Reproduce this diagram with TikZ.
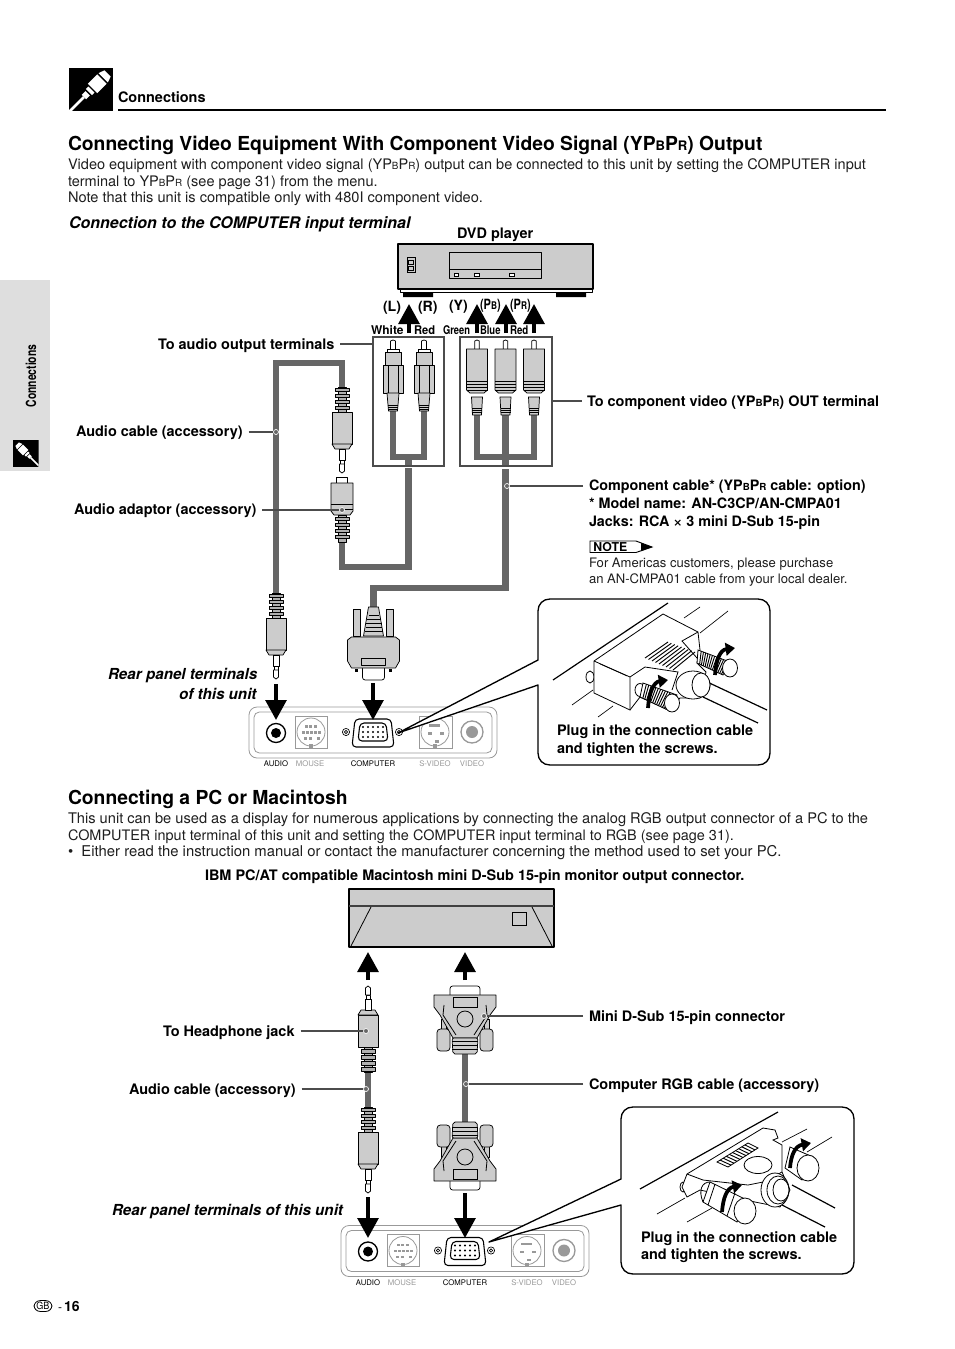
\documentclass[tikz,border=0pt]{standalone}
\usepackage{fontspec}
\setmainfont{TeX Gyre Heros}
\usetikzlibrary{arrows.meta,calc}
\definecolor{cablec}{HTML}{666666}
\definecolor{partc}{HTML}{CCCCCC}
\definecolor{gripc}{HTML}{B0B0B0}
\definecolor{panelc}{HTML}{999999}
\definecolor{tabc}{HTML}{DEDEDE}
\definecolor{bodyc}{HTML}{1E1E1E}
\newcommand{\fs}[1]{\fontsize{#1}{#1}\selectfont}
\newcommand{\ypb}{YP\scalebox{.68}{B}P\scalebox{.68}{R}}
\newcommand{\lab}[4]{\node[txt,#3] (#1) at (#2) {#4};}
\tikzset{
  txt/.style={anchor=base west,inner sep=0pt,outer sep=0pt,text=black},
  body/.style={font=\fs{10.9pt},text=bodyc},
  boldl/.style={font=\fs{10.85pt}\bfseries},
  head/.style={font=\fs{14.47pt}\bfseries},
  ital/.style={font=\fs{11.4pt}\bfseries\itshape},
  small/.style={font=\fs{9.8pt},text=bodyc},
  narrow/.style={font=\fs{9pt}\bfseries},
  paren/.style={font=\fs{10.6pt}\bfseries},
  tiny/.style={anchor=base,inner sep=0pt,font=\fs{5.8pt}},
  tinyg/.style={tiny,text=panelc},
  part/.style={draw=black,line width=0.55pt,fill=partc,line join=round},
  white part/.style={part,fill=white},
  grip/.style={part,line width=0.4pt,fill=gripc},
  cable/.style={draw=cablec,line width=4.9pt,line cap=butt,line join=miter},
  leader/.style={draw=black!70,line width=0.8pt},
  dot/.style={fill=cablec,draw=white,line width=0.5pt},
  pan/.style={draw=panelc,line width=0.6pt},
  bigarrow/.style={line width=3pt,-{Triangle[width=15.5pt,length=15pt]},draw=black},
  curvearrow/.style={line width=2.8pt,-{Triangle[width=9.5pt,length=7pt]},draw=black},
  callout/.style={draw=black,line width=1pt,fill=white,line join=round},
  ink/.style={draw=black,line width=0.6pt},
  inkfill/.style={ink,fill=white},
  frame/.style={draw=black!70,line width=1.1pt},
  pics/jack/.style={code={
    \draw[grip] (-4,0) rectangle (4,25);
    \foreach \r in {1,7,13,19}{\draw[grip] (-7,\r) rectangle (7,\r+3.5);}
    \draw[part] (-10,25) rectangle (10,57);
    \draw[part] (-10,57)--(-7,62)--(7,62)--(10,57)--cycle;
    \draw[white part] (-3,62) rectangle (3,73);
    \draw[white part] (-2,73) rectangle (2,77);
    \draw[white part] (-2.6,77) -- (-2.6,84) -- (0,86) -- (2.6,84) -- (2.6,77) -- cycle;
  }},
  pics/adaptor/.style={code={
    \draw[white part] (-5.5,0) rectangle (5.5,6);
    \draw[part] (-11,6)--(11,6)--(11,34)--(8,38)--(-8,38)--(-11,34)--cycle;
    \draw[ink] (-11,27)--(11,27) (-11,32)--(11,32);
    \draw[grip] (-4,38) rectangle (4,65);
    \foreach \r in {40,46,52,58}{\draw[grip] (-7,\r) rectangle (7,\r+3.5);}
  }},
  pics/rcaa/.style={code={
    \draw[white part] (-2.5,1) -- (-2.5,10) -- (2.5,10) -- (2.5,1) -- (0,0) -- cycle;
    \draw[white part] (-6,9) rectangle (6,12);
    \draw[part] (-8,12) rectangle (8,25);
    \draw[part] (-10,25) rectangle (10,53);
    \draw[ink] (-5,25)--(-5,53) (5,25)--(5,53);
    \draw[part] (-6,53)--(6,53)--(4.5,71)--(-4.5,71)--cycle;
    \foreach \r in {65,67,69}{\draw[ink] (-5,\r)--(5,\r);}
  }},
  pics/rcab/.style={code={
    \draw[white part] (-2.3,1) -- (-2.3,10) -- (2.3,10) -- (2.3,1) -- (0,0) -- cycle;
    \draw[part] (-10.5,9)--(10.5,9)--(10.5,50)--(7,53)--(-7,53)--(-10.5,50)--cycle;
    \foreach \r in {41,44,47,50}{\draw[ink] (-10.5,\r)--(10.5,\r);}
    \draw[part] (-5.5,57)--(5.5,57)--(4.5,75)--(-4.5,75)--cycle;
    \foreach \r in {68,70,72}{\draw[ink] (-5,\r)--(5,\r);}
  }},
  pics/vgaplug/.style={code={
    \draw[part] (-20,2) rectangle (-13,29);
    \draw[part] (13,2) rectangle (20,29);
    \draw[part] (-5,0)--(5,0)--(10,29)--(-10,29)--cycle;
    \foreach \r/\w in {8/5,12/7,16/8,20/8,24/9}{\draw[ink] (-\w,\r)--(\w,\r);}
    \draw[white part,rounded corners=2pt] (-11,58) rectangle (11,73);
    \draw[part] (-22,30)--(22,30)--(26,33)--(26,54)--(22,61)--(-22,61)--(-26,54)--(-26,33)--cycle;
    \draw[part,fill=partc] (-12,51) rectangle (12,58);
    \fill (-18.5,62) rectangle (-15.5,65);
    \fill (15.5,62) rectangle (18.5,65);
  }},
  pics/dsub/.style={code={
    \draw[part] (-24,20) rectangle (-19,34);
    \draw[part] (19,20) rectangle (24,34);
    \draw[part,rounded corners=2.5pt] (-28,2) rectangle (-15,24);
    \draw[part,rounded corners=2.5pt] (15,2) rectangle (28,24);
    \draw[white part,rounded corners=2pt] (-15,54) rectangle (15,67);
    \draw[part] (-12,15)--(12,15)--(25,38)--(31,46)--(31,58)--(-31,58)--(-31,46)--(-25,38)--cycle;
    \draw[ink] (-9,18)--(-22,38)--(-21,48) (9,18)--(22,38)--(21,48);
    \draw[part,rounded corners=1.5pt] (-12,-1)--(12,-1)--(13,15)--(-13,15)--cycle;
    \foreach \r in {4,8,12}{\draw[ink] (-13,\r)--(13,\r);}
    \draw[ink] (0,34) circle (8);
    \draw[ink] (-12,46) rectangle (12,56);
  }},
  pics/rearpanel/.style={code={
    \draw[pan,fill=white,rounded corners=6pt] (-124,-26) rectangle (124,25);
    \draw[pan,rounded corners=4pt] (-119,-21) rectangle (119,20);
    \draw[draw=black,line width=1pt,fill=white] (-97,0) circle (9.5);
    \fill[black] (-97,0) circle (5);
    \draw[pan] (-78,-17) rectangle (-46,15);
    \draw[pan] (-62,-1) circle (14);
    \foreach \a/\b in {-68/-8,-64/-8,-59/-8,-71/-2,-67/-2,-63/-2,-59/-2,-55/-2,-69/4,-64/4,-56/4}{\fill[panelc] (\a,\b) rectangle +(2.6,2.6);}
    \fill[panelc] (-64,11) rectangle (-60,15);
    \draw[black,line width=0.5pt] (-27,-1) circle (3.6) (-27,-1) circle (1.7);
    \draw[black,line width=0.5pt] (26,-1) circle (3.6) (26,-1) circle (1.7);
    \draw[draw=black,line width=0.8pt,fill=white,rounded corners=3pt] (-18,-14)--(18,-14)--(21,14)--(-21,14)--cycle;
    \draw[draw=black,line width=0.8pt,rounded corners=3pt] (-13,-10)--(13,-10)--(15,8)--(-15,8)--cycle;
    \foreach \b in {-6,-1,4}{\foreach \a in {-10,-5,0,5,10}{\fill (\a,\b) circle (1.1);}}
    \draw[pan] (46,-17) rectangle (79,15);
    \draw[pan] (62,-1) circle (14);
    \foreach \a/\b in {60/-9,56/-9,55/-1,67/-1,62/7,63/-9}{\fill[panelc] (\a,\b) rectangle +(4,2.6);}
    \fill[panelc] (60,11) rectangle (64,15);
    \draw[panelc,line width=1pt] (99,-1) circle (11);
    \fill[panelc] (99,-1) circle (6);
    \node[tiny] (-a) at (-97,33.5) {AUDIO};
    \node[tinyg] (-m) at (-63,33.5) {MOUSE};
    \node[tiny] (-c) at (0,33.5) {COMPUTER};
    \node[tinyg] (-s) at (62,33.5) {S-VIDEO};
    \node[tinyg] (-v) at (99,33.5) {VIDEO};
  }},
  pics/plugicon/.style={code={
    \fill[white] (-38,-1.6) rectangle (-13,1.6);
    \fill[white] (-13,-3.5) rectangle (-7,3.5);
    \fill[white] (-5,-5) rectangle (-1,5);
    \fill[white] (1,-7.5) rectangle (16,7.5);
    \fill[white] (18,-7.5) -- (25,-5) -- (25,5) -- (18,7.5) -- cycle;
  }},
}
\begin{document}
\begin{tikzpicture}[x=0.75pt,y=-0.75pt]
\useasboundingbox (0,0) rectangle (954,1349);
% ---------- margin tab and header
\fill[tabc] (0,280) rectangle (50,471);
\node[inner sep=0pt,rotate=90,font=\fs{10.5pt}\bfseries] (tabtext) at (31,376) {\scalebox{.74}[1]{Connections}};
\begin{scope}
  \clip (13,440) rectangle (38.5,467);
  \fill (13,440) rectangle (38.5,467);
  \pic[rotate=135,scale=.5] at (26,453) {plugicon};
\end{scope}
\begin{scope}
  \clip (69,68) rectangle (113,111);
  \fill (69,68) rectangle (113,111);
  \pic[rotate=45,scale=.88] at (92,89) {plugicon};
\end{scope}
\lab{hconn}{118,102}{boldl}{Connections}
\fill (118,108.7) rectangle (886,111.3);
% ---------- section 1 text
\lab{t1}{68,150}{head}{Connecting Video Equipment With Component Video Signal (\ypb) Output}
\lab{b1}{68,169}{body}{Video equipment with component video signal (\ypb) output can be connected to this unit by setting the COMPUTER input}
\lab{b2}{68,186}{body}{terminal to \ypb\ (see page 31) from the menu.}
\lab{b3}{68,202}{body,font=\fs{10.95pt}}{Note that this unit is compatible only with 480I component video.}
\lab{c1}{69,228}{ital,font=\fs{12pt}\bfseries\itshape}{Connection to the COMPUTER input terminal}
\lab{dvd}{457,238}{boldl}{DVD player}
% ---------- DVD player
\draw[part,line width=1pt] (398,244) rectangle (593,289);
\draw[part,fill=white] (400,289) rectangle (592,292);
\fill (403,292) rectangle (433,297) (556,292) rectangle (586,297);
\draw[part] (449,252) rectangle (541,278);
\draw[ink] (449,269) -- (541,269);
\draw[ink,fill=white] (454,273) rectangle (458,276) (474,273) rectangle (479,276) (509,273) rectangle (514,276);
\draw[ink] (407,257) rectangle (415,272);
\draw[ink] (408.5,260) rectangle (413.5,264) (408.5,266) rectangle (413.5,270);
% ---------- top arrows
\foreach \n/\x in {al/409,ay/477,ab/506,ar/534}{
  \coordinate (\n s) at (\x,333); \coordinate (\n e) at (\x,304);
  \draw[bigarrow] (\n s) -- (\n e);
}
\lab{lL}{383,311.5}{paren}{(L)}
\lab{lR}{418,311.5}{paren}{(R)}
\lab{lY}{449,310}{paren}{(Y)}
\lab{lPB}{480,309.5}{paren}{\scalebox{.78}[1]{(P\scalebox{.75}{B})}}
\lab{lPR}{510,309.5}{paren}{\scalebox{.78}[1]{(P\scalebox{.75}{R})}}
\lab{lw}{371,334}{narrow}{\scalebox{1}[1]{White}}
\lab{lr1}{414,334}{narrow}{\scalebox{.93}[1]{Red}}
\lab{lg}{443,334}{narrow}{\scalebox{.78}[1]{Green}}
\lab{lb}{480,334}{narrow}{\scalebox{.79}[1]{Blue}}
\lab{lr2}{510,334}{narrow}{\scalebox{.81}[1]{Red}}
% ---------- connector coordinates
\coordinate (audL) at (393,411);
\coordinate (audR) at (424,411);
\coordinate (audJ) at (408.5,457);
\coordinate (audO) at (408.5,468);
\coordinate (adapB) at (342,542);
\coordinate (jackA) at (342,387);
\coordinate (jackB) at (276,593);
\coordinate (vidY) at (477,415);
\coordinate (vidB) at (505.5,415);
\coordinate (vidR) at (534,415);
\coordinate (vidJ) at (505.5,457);
\coordinate (vidO) at (505.5,469);
\coordinate (vgaT) at (373.5,607);
% ---------- cables
\draw[cable] (audL) -- (audL |- audJ) -- (audR |- audJ) -- (audR);
\draw[cable] (audJ) -- (408.5,466);
\draw[cable] (audO) -- (408.5,567) -- (342,567) -- (adapB);
\draw[cable] (vidY) -- (vidY |- vidJ) -- (vidR |- vidJ) -- (vidR);
\draw[cable] (vidB) -- (505.5,466);
\draw[cable] (vidO) -- (505.5,588) -- (373.5,588) -- (vgaT);
\draw[cable] (jackA) -- (342,363) -- (276,363) -- (jackB);
% ---------- boxes and plugs
\draw[frame] (373,337) rectangle (444,466);
\draw[frame] (460,337) rectangle (552,466);
\pic at (393,340) {rcaa};
\pic at (424,340) {rcaa};
\pic at (477,340) {rcab};
\pic at (505.5,340) {rcab};
\pic at (534,340) {rcab};
\pic at (342,387) {jack};
\pic at (342,477) {adaptor};
\pic at (276,593) {jack};
\pic at (373.5,607) {vgaplug};
% ---------- rear panel 1
\pic (pa) at (373,733) {rearpanel};
\coordinate (arrJ1s) at (276,684); \coordinate (arrJ1e) at (276,720);
\coordinate (arrV1s) at (373,683); \coordinate (arrV1e) at (373,720);
\draw[bigarrow] (arrJ1s) -- (arrJ1e);
\draw[bigarrow] (arrV1s) -- (arrV1e);
% ---------- callout 1
\coordinate (tipA) at (398,733);
\draw[callout] (tipA) -- (538,660) -- (538,611) .. controls (538,604) and (543,599) .. (550,599) -- (758,599) .. controls (765,599) and (770,604) .. (770,611) -- (770,753) .. controls (770,760) and (765,765) .. (758,765) -- (550,765) .. controls (543,765) and (538,760) .. (538,753) -- (538,685) -- cycle;
\draw[ink,line width=.9pt] (553,680)--(668,603);
\draw[ink,line width=.5pt] (572,705)--(593,690) (598,717)--(613,706) (684,618)--(700,607) (700,633)--(728,611);
\draw[inkfill] (590,677) ellipse (4 and 6);
\draw[ink,line width=.9pt] (703,680)--(767,710) (703,697)--(758,723);
% connector shell
\draw[inkfill] (594,661)--(663,614)--(698,632)--(700,650)--(697,663)--(706,672)--(700,698)--(680,698)--(668,710)--(640,697)--(630,710)--(594,693)--cycle;
\draw[ink] (594,661)--(630,677)--(630,710) (630,677)--(645,667)--(678,672)--(672,690) (698,632)--(682,641)--(697,658);
\draw[ink,line width=.4pt] (600,664)--(627,676);
\foreach \t in {0,.125,...,1.01}{
  \draw[ink,line width=.7pt] ($(645,658)!\t!(673,670)$) -- ($(668,642)!\t!(695,652)$);
}
\draw[inkfill] (693,685) ellipse (17 and 14);
\draw[inkfill] (701,685) ellipse (9 and 12);
% screws
\draw[inkfill] (640,690) ellipse (5 and 6.5);
\draw[inkfill] (643,683)--(677,695)--(668,710)--(640,697)--cycle;
\foreach \t in {.1,.17,...,.95}{
  \draw[ink,line width=.7pt] ($(643,683)!\t!(677,695)$) -- ($(640,697)!\t!(668,710)$);
}
\draw[inkfill] (672,703) ellipse (7.5 and 9);
\draw[inkfill] (698,650)--(730,662)--(723,675)--(697,663)--cycle;
\foreach \t in {.1,.17,...,.95}{
  \draw[ink,line width=.7pt] ($(698,650)!\t!(730,662)$) -- ($(697,663)!\t!(723,675)$);
}
\draw[inkfill] (730,668) ellipse (7.5 and 9);
\coordinate (ca1) at (648,708); \coordinate (cb1) at (668,680);
\coordinate (ca2) at (715,675); \coordinate (cb2) at (735,648);
\draw[curvearrow] (ca1) .. controls (649,692) and (654,682) .. (cb1);
\draw[curvearrow] (ca2) .. controls (716,660) and (720,650) .. (cb2);
\lab{pl1}{557,735}{boldl}{Plug in the connection cable}
\lab{pl2}{557,753}{boldl}{and tighten the screws.}
% ---------- side labels section 1
\lab{rp1}{108,679}{ital}{Rear panel terminals}
\lab{rp2}{179,699}{ital}{of this unit}
\lab{ta}{158,349}{boldl}{To audio output terminals}
\coordinate (cta) at (373,344);
\draw[leader] ([xshift=4.5pt]cta -| ta.east) -- (cta);
\lab{tc}{587,406}{boldl}{To component video (\ypb) OUT terminal}
\coordinate (ctc) at (553,401);
\draw[leader] ([xshift=-4pt]ctc -| tc.west) -- (ctc);
\lab{ac}{76,436}{boldl}{Audio cable (accessory)}
\coordinate (cac) at (276,432);
\draw[leader] ([xshift=4.5pt]cac -| ac.east) -- (cac);
\fill[dot] (cac) circle (2.5);
\lab{ad}{74,514}{boldl}{Audio adaptor (accessory)}
\coordinate (cad) at (342,510);
\draw[leader] ([xshift=4.5pt]cad -| ad.east) -- (cad);
\fill[dot] (cad) circle (2.5);
\lab{cc}{589,490}{boldl,font=\fs{10.75pt}\bfseries}{Component cable* (\ypb\ cable: option)}
\coordinate (ccc) at (507,486);
\draw[leader] ([xshift=-4.5pt]ccc -| cc.west) -- (ccc);
\fill[dot] (ccc) circle (2.5);
\lab{cm}{589,508}{boldl,font=\fs{10.75pt}\bfseries}{* Model name: AN-C3CP/AN-CMPA01}
\lab{cj}{589,526}{boldl,font=\fs{10.75pt}\bfseries}{Jacks: RCA {\fontspec{DejaVu Sans}\fs{8pt}×} 3 mini D-Sub 15-pin}
\draw[draw=black,line width=.7pt] (590,541)--(636,541)--(652,547)--(636,552.5)--(590,552.5)--cycle;
\fill (641,543)--(652,547)--(641,551)--cycle;
\node[inner sep=0pt,anchor=base west,font=\fs{9.2pt}\bfseries] (note) at (593,551.5) {NOTE};
\lab{n1}{589,567}{small}{For Americas customers, please purchase}
\lab{n2}{589,583}{small}{an AN-CMPA01 cable from your local dealer.}
% ---------- section 2 text
\lab{t2}{68,804}{head}{Connecting a PC or Macintosh}
\lab{d1}{68,823}{body,font=\fs{10.98pt}}{This unit can be used as a display for numerous applications by connecting the analog RGB output connector of a PC to the}
\lab{d2}{68,840}{body,font=\fs{10.82pt}}{COMPUTER input terminal of this unit and setting the COMPUTER input terminal to RGB (see page 31).}
\lab{d3}{68,856}{body,font=\fs{11.14pt}}{•\ \ Either read the instruction manual or contact the manufacturer concerning the method used to set your PC.}
\lab{ibm}{205,880}{boldl}{IBM PC/AT compatible Macintosh mini D-Sub 15-pin monitor output connector.}
% ---------- PC
\draw[part,line width=1.8pt] (349,889) rectangle (554,947);
\draw[draw=black!75,line width=1pt] (349,906) -- (554,906);
\draw[ink] (371,907)--(351,946) (532,907)--(552,946);
\draw[ink] (512,912) rectangle (526,925);
\coordinate (up1s) at (368,980); \coordinate (up1e) at (368,952);
\coordinate (up2s) at (465,980); \coordinate (up2e) at (465,952);
\draw[bigarrow] (up1s) -- (up1e);
\draw[bigarrow] (up2s) -- (up2e);
% ---------- second cables
\coordinate (j2t) at (368,1072); \coordinate (j2b) at (368,1107);
\coordinate (d2t) at (465,1053); \coordinate (d2b) at (465,1123);
\draw[cable] (j2t) -- (j2b);
\draw[cable] (d2t) -- (d2b);
\pic[yscale=-1] at (j2t) {jack};
\pic at (j2b) {jack};
\pic[yscale=-1] at (d2t) {dsub};
\pic at (d2b) {dsub};
% ---------- rear panel 2
\pic (pb) at (465,1251.5) {rearpanel};
\coordinate (arrJ2s) at (368,1197); \coordinate (arrJ2e) at (368,1238);
\coordinate (arrV2s) at (465,1193); \coordinate (arrV2e) at (465,1238);
\draw[bigarrow] (arrJ2s) -- (arrJ2e);
\draw[bigarrow] (arrV2s) -- (arrV2e);
% ---------- callout 2
\coordinate (tipB) at (489,1242);
\draw[callout] (tipB) -- (621,1179) -- (621,1119) .. controls (621,1112) and (626,1107) .. (633,1107) -- (842,1107) .. controls (849,1107) and (854,1112) .. (854,1119) -- (854,1262) .. controls (854,1269) and (849,1274) .. (842,1274) -- (633,1274) .. controls (626,1274) and (621,1269) .. (621,1262) -- (621,1205) -- cycle;
\draw[ink,line width=.9pt] (640,1189)--(778,1112);
\draw[ink,line width=.5pt] (657,1214)--(685,1198) (687,1222)--(712,1208) (782,1142)--(807,1129) (807,1152)--(832,1137);
\draw[ink,line width=.9pt] (792,1185)--(835,1208) (782,1205)--(825,1227);
\draw[inkfill] (683,1187) ellipse (3 and 5);
\draw[inkfill] (687,1174)--(763,1128)--(775,1130)--(778,1138)--(773,1140)--(782,1145)--(782,1172)--(790,1190)--(780,1207)--(755,1202)--(700,1190)--(687,1197)--(682,1187)--cycle;
\draw[ink] (687,1174)--(703,1180)--(748,1185)--(763,1182)--(782,1172);
\draw[inkfill] (758,1165) ellipse (14 and 8.5);
\draw[ink,fill=white] (717,1162)--(748,1143)--(758,1148)--(728,1167)--cycle;
\foreach \t in {.1,.2,...,.95}{
  \draw[ink,line width=.7pt] ($(717,1162)!\t!(748,1143)$) -- ($(728,1167)!\t!(758,1148)$);
}
\draw[inkfill] (775,1190) ellipse (14 and 17);
\draw[inkfill] (778,1190) ellipse (11 and 14);
\draw[inkfill] (781,1190) ellipse (8 and 11);
\draw[inkfill] (710,1182)--(747,1200)--(737,1222)--(703,1202)--cycle;
\draw[ink] (703,1202) .. controls (698,1190) and (702,1182) .. (710,1182);
\draw[ink] (715,1184)--(708,1205) (735,1193)--(727,1216);
\draw[inkfill] (745,1211) ellipse (11 and 13);
\draw[inkfill] (790,1147)--(813,1157)--(802,1180)--(785,1168)--cycle;
\draw[inkfill] (808,1168) ellipse (11 and 13);
\coordinate (ca3) at (722,1212); \coordinate (cb3) at (742,1185);
\coordinate (ca4) at (790,1168); \coordinate (cb4) at (811,1143);
\draw[curvearrow] (ca3) .. controls (723,1198) and (727,1188) .. (cb3);
\draw[curvearrow] (ca4) .. controls (791,1155) and (795,1146) .. (cb4);
\lab{pl3}{641,1242}{boldl}{Plug in the connection cable}
\lab{pl4}{641,1259}{boldl}{and tighten the screws.}
% ---------- labels section 2
\lab{hj}{163,1036}{boldl}{To Headphone jack}
\coordinate (chj) at (366,1031);
\draw[leader] ([xshift=4.5pt]chj -| hj.east) -- (chj);
\fill[dot] (chj) circle (2.5);
\lab{ac2}{129,1094}{boldl}{Audio cable (accessory)}
\coordinate (cac2) at (366,1089);
\draw[leader] ([xshift=4.5pt]cac2 -| ac2.east) -- (cac2);
\fill[dot] (cac2) circle (2.5);
\lab{ms}{589,1021}{boldl}{Mini D-Sub 15-pin connector}
\coordinate (cms) at (484,1016);
\draw[leader] ([xshift=-4.5pt]cms -| ms.west) -- (cms);
\fill[dot] (cms) circle (2.5);
\lab{rgb}{589,1089}{boldl}{Computer RGB cable (accessory)}
\coordinate (crgb) at (466,1084);
\draw[leader] ([xshift=-4.5pt]crgb -| rgb.west) -- (crgb);
\fill[dot] (crgb) circle (2.5);
\lab{rp3}{112,1215}{ital}{Rear panel terminals of this unit}
% ---------- footer
\node[draw=black,line width=.6pt,rounded corners=4.5pt,inner xsep=1.8pt,inner ysep=1.2pt,font=\fs{7.5pt}] (gb) at (43,1306) {\scalebox{.9}[1]{GB}};
\lab{dash}{58,1311}{font=\fs{9pt}}{-}
\lab{pg}{64,1311}{font=\fs{10.5pt}\bfseries}{16}
\end{tikzpicture}
\end{document}
